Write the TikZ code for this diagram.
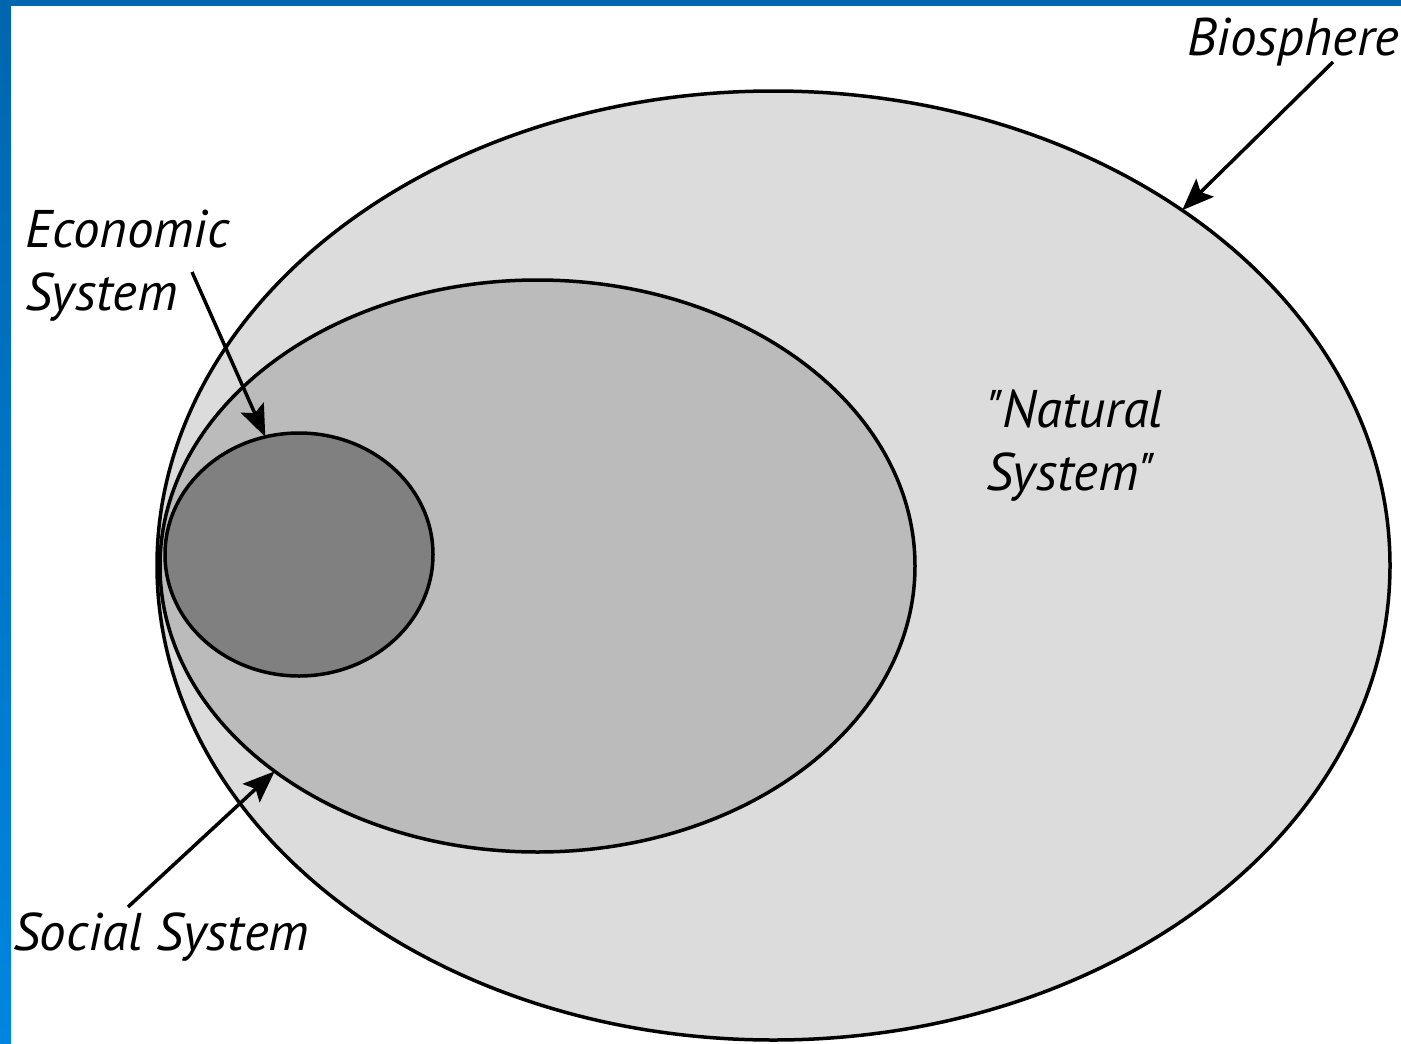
\documentclass[tikz,border=0pt]{standalone}
\usepackage{fontspec}
\newfontfamily\labelfont{PT Sans}
\usetikzlibrary{shapes.geometric,arrows.meta}
\definecolor{frameblue}{RGB}{0,102,174}
\definecolor{framelight}{RGB}{0,134,224}
\definecolor{biogray}{RGB}{220,220,220}
\definecolor{socgray}{RGB}{187,187,187}
\definecolor{ecogray}{RGB}{128,128,128}
\begin{document}
\begin{tikzpicture}[x=1pt,y=-1pt,
    sys/.style={ellipse,draw=black,line width=3.5pt,inner sep=0pt,outer sep=0pt},
    lbl/.style={font=\labelfont\fontsize{53}{63}\selectfont\itshape,inner sep=0pt,align=left,anchor=base west},
    pointer/.style={line width=3.5pt,-{Stealth[length=32pt,width=25pt,inset=6pt]}}]
    \useasboundingbox (0,0) rectangle (1401,1044);
    \fill[white] (0,0) rectangle (1401,1044);
    \shade[top color=frameblue,bottom color=framelight] (0,0) rectangle (11,1044);
    \fill[frameblue] (0,0) rectangle (1401,6);
    % systems
    \node[sys,fill=biogray,minimum width=1233pt,minimum height=949pt] (bio) at (773.5,565.5) {};
    \node[sys,fill=socgray,minimum width=755pt,minimum height=572pt] (soc) at (537.5,566) {};
    \node[sys,fill=ecogray,minimum width=268pt,minimum height=243pt] (eco) at (299,554.5) {};
    % labels
    \node[lbl] (bioText) at (1187,55) {Biosphere};
    \node[lbl] (ecoText) at (25,310) {Economic\\System};
    \node[lbl] (natText) at (986,490) {"Natural\\System"};
    \node[lbl] (socText) at (13,950) {Social System};
    % pointers
    \coordinate (bioFrom) at (1333,62);
    \coordinate (ecoFrom) at (192,272);
    \coordinate (socFrom) at (128,907);
    \draw[pointer] (bioFrom) -- (bio.41);
    \draw[pointer] (ecoFrom) -- (eco.106);
    \draw[pointer] (socFrom) -- (soc.218);
\end{tikzpicture}
\end{document}
